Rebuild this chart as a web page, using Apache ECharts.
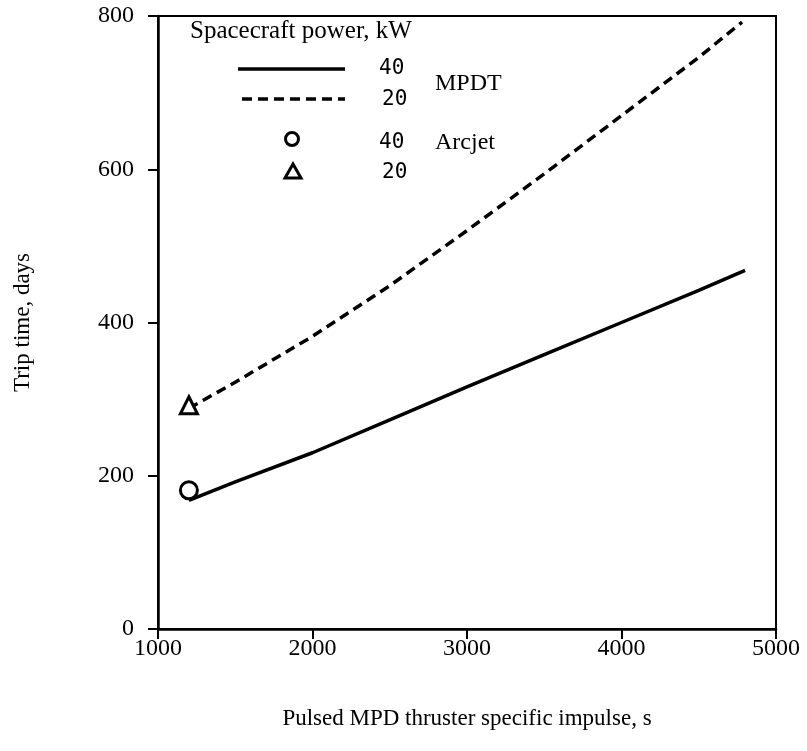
<!DOCTYPE html>
<html>
<head>
<meta charset="utf-8">
<script src="https://cdn.jsdelivr.net/npm/echarts@6/dist/echarts.min.js"></script>
<style>html,body{margin:0;padding:0;background:#fff}#c{width:807px;height:751px}</style>
</head>
<body>
<div id="c"></div>
<script>
// ---- data ----
const impulse = [1200, 1500, 2000, 2500, 3000, 3500, 4000, 4500, 4800];
const mpdt40 = [168, 192, 230, 273, 316, 358, 400, 442, 468];
const impulse20 = [1200, 1500, 2000, 2500, 3000, 3500, 4000, 4500, 4780];
const mpdt20 = [288, 322, 382, 448, 520, 594, 670, 746, 792];
const arcjetImpulse = [1200];
const arcjet40 = [181];
const arcjet20 = [292];
const xTicks = [1000, 2000, 3000, 4000, 5000];
const yTicks = [0, 200, 400, 600, 800];

const serif = '"Liberation Serif", "Times New Roman", serif';
const mono = '"DejaVu Sans Mono", monospace';
const chart = echarts.init(document.getElementById('c'));

const pairs = (xs, ys) => xs.map((x, i) => [x, ys[i]]);

chart.setOption({
  animation: false,
  backgroundColor: '#fff',
  grid: { left: 158, right: 31, top: 16, bottom: 122, show: true, borderColor: '#000', borderWidth: 2, backgroundColor: 'transparent' },
  xAxis: {
    type: 'value', min: xTicks[0], max: xTicks[xTicks.length - 1], interval: 1000,
    name: 'Pulsed MPD thruster specific impulse, s', nameLocation: 'middle', nameGap: 78,
    nameTextStyle: { fontFamily: serif, fontSize: 23, color: '#000' },
    axisLine: { show: true, lineStyle: { color: '#000', width: 2.5 } },
    axisTick: { show: true, inside: false, length: 10, lineStyle: { color: '#000', width: 2 } },
    axisLabel: { fontFamily: serif, fontSize: 24, color: '#000', margin: 8, formatter: v => String(v) },
    splitLine: { show: false }
  },
  yAxis: {
    type: 'value', min: yTicks[0], max: yTicks[yTicks.length - 1], interval: 200,
    name: 'Trip time, days', nameLocation: 'middle', nameGap: 124, nameRotate: 90,
    nameTextStyle: { fontFamily: serif, fontSize: 23, color: '#000' },
    axisLine: { show: true, lineStyle: { color: '#000', width: 2.5 } },
    axisTick: { show: true, inside: false, length: 10, lineStyle: { color: '#000', width: 2 } },
    axisLabel: { fontFamily: serif, fontSize: 24, color: '#000', margin: 24, formatter: v => String(v) },
    splitLine: { show: false }
  },
  series: [
    {
      name: 'MPDT 40', type: 'line', data: pairs(impulse, mpdt40), smooth: false,
      symbol: 'none', lineStyle: { color: '#000', width: 3.5, type: 'solid' }
    },
    {
      name: 'MPDT 20', type: 'line', data: pairs(impulse20, mpdt20), smooth: false,
      symbol: 'none', lineStyle: { color: '#000', width: 3.5, type: [10, 6] }
    },
    {
      name: 'Arcjet 40', type: 'scatter', data: pairs(arcjetImpulse, arcjet40),
      symbol: 'circle', symbolSize: 17, z: 5,
      itemStyle: { color: '#fff', borderColor: '#000', borderWidth: 3, opacity: 1 }
    },
    {
      name: 'Arcjet 20', type: 'scatter', data: pairs(arcjetImpulse, arcjet20),
      symbol: 'triangle', symbolSize: 17, z: 5,
      itemStyle: { color: '#fff', borderColor: '#000', borderWidth: 3, opacity: 1 }
    }
  ],
  graphic: [
    { type: 'text', left: 190, top: 19, style: { text: 'Spacecraft power, kW', font: '25px ' + serif, fill: '#000' } },
    { type: 'line', shape: { x1: 238, y1: 69, x2: 345, y2: 69 }, style: { stroke: '#000', lineWidth: 3.5 } },
    { type: 'text', left: 379, top: 58, style: { text: '40', font: '21px ' + mono, fill: '#000' } },
    { type: 'text', left: 435, top: 72, style: { text: 'MPDT', font: '24px ' + serif, fill: '#000' } },
    { type: 'line', shape: { x1: 242, y1: 99, x2: 345, y2: 99 }, style: { stroke: '#000', lineWidth: 3.5, lineDash: [10, 6] } },
    { type: 'text', left: 382, top: 89, style: { text: '20', font: '21px ' + mono, fill: '#000' } },
    { type: 'circle', shape: { cx: 292, cy: 139, r: 6.5 }, style: { fill: '#fff', stroke: '#000', lineWidth: 3 } },
    { type: 'text', left: 379, top: 132, style: { text: '40', font: '21px ' + mono, fill: '#000' } },
    { type: 'text', left: 435, top: 131, style: { text: 'Arcjet', font: '24px ' + serif, fill: '#000' } },
    { type: 'polygon', shape: { points: [[293, 164], [301, 178], [285, 178]] }, style: { fill: '#fff', stroke: '#000', lineWidth: 3 } },
    { type: 'text', left: 382, top: 162, style: { text: '20', font: '21px ' + mono, fill: '#000' } }
  ]
});
</script>
</body>
</html>
